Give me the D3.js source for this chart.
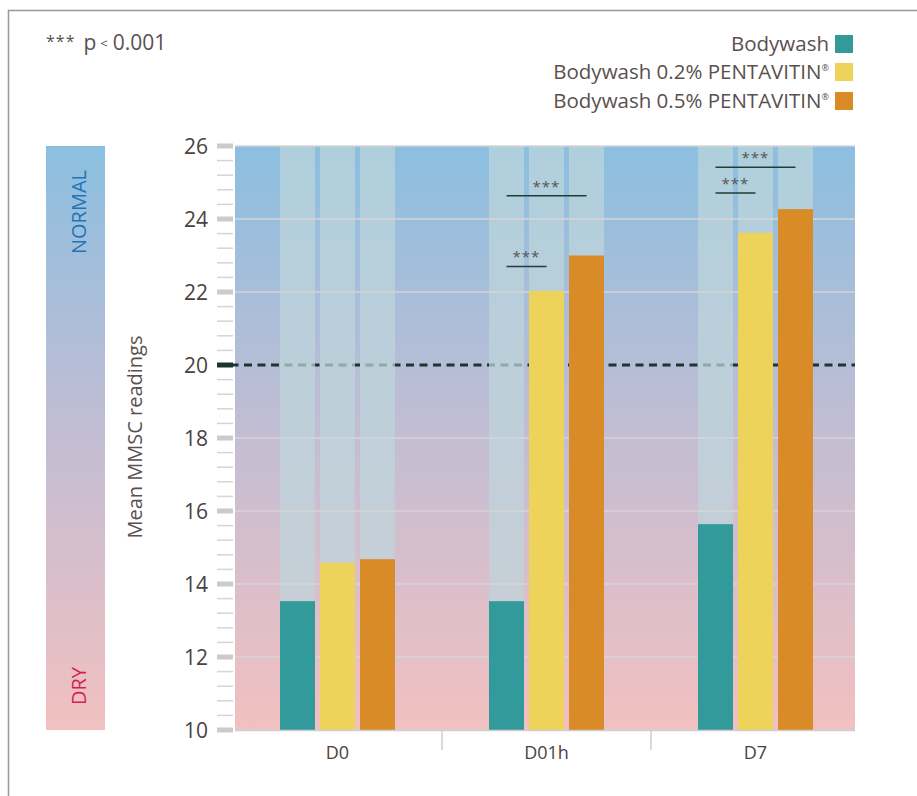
<!DOCTYPE html>
<html>
<head>
<meta charset="utf-8">
<script src="https://cdn.jsdelivr.net/npm/d3@7/dist/d3.min.js"></script>
<style>
html,body{margin:0;padding:0;background:#fff;}
svg{display:block;font-family:"Open Sans",sans-serif;}
</style>
</head>
<body>
<svg id="chart" width="917" height="796"></svg>
<script>
const categories = ["D0", "D01h", "D7"];
const seriesNames = ["Bodywash", "Bodywash 0.2% PENTAVITIN", "Bodywash 0.5% PENTAVITIN"];
const seriesSup = ["", "®", "®"];
const seriesColors = ["#339a9c", "#eed35a", "#d88b27"];
const bodywash = [13.53, 13.53, 15.64];
const penta02 = [14.58, 22.03, 23.62];
const penta05 = [14.68, 23.0, 24.27];
const yTicks = [10, 12, 14, 16, 18, 20, 22, 24, 26];
const threshold = 20;
// significance: category, series from, series to, bracket level (in data units)
const sigCategory = ["D01h", "D01h", "D7", "D7"];
const sigFrom = [0, 0, 0, 0];
const sigTo = [1, 2, 1, 2];
const sigY = [22.70, 24.64, 24.71, 25.42];

const series = [bodywash, penta02, penta05];
const svg = d3.select("#chart");
const textColor = "#5a504e";

const pLeft = 235, pRight = 855, pTop = 146, pBottom = 730;
const y = d3.scaleLinear().domain([10, 26]).range([pBottom, pTop]);
const x = d3.scaleBand().domain(categories).range([233, 860]).paddingInner(0).paddingOuter(0);
const barW = 35, barGap = 5;
const xs = d3.scaleBand().domain(d3.range(3)).range([0, 3 * barW + 2 * barGap]).paddingInner(barGap / (barW + barGap)).paddingOuter(0);
const groupOffset = (x.bandwidth() - (3 * barW + 2 * barGap)) / 2;
const barX = (ci, si) => x(categories[ci]) + groupOffset + xs(si);

// frame
svg.append("path").attr("d", "M8.5,796 L8.5,10.5 L917,10.5").attr("fill", "none").attr("stroke", "#9a9898").attr("stroke-width", 1.5);

// gradient
const defs = svg.append("defs");
const grad = defs.append("linearGradient").attr("id", "bg").attr("x1", 0).attr("y1", 0).attr("x2", 0).attr("y2", 1);
grad.append("stop").attr("offset", "0%").attr("stop-color", "#8bbfe0");
grad.append("stop").attr("offset", "50%").attr("stop-color", "#c3bdd3");
grad.append("stop").attr("offset", "100%").attr("stop-color", "#f2c0c0");

svg.append("rect").attr("x", pLeft).attr("y", pTop).attr("width", pRight - pLeft).attr("height", pBottom - pTop).attr("fill", "url(#bg)");
svg.append("rect").attr("x", 46).attr("y", pTop).attr("width", 59).attr("height", pBottom - pTop).attr("fill", "url(#bg)");

svg.append("text").attr("transform", `translate(86,212) rotate(-90)`).attr("text-anchor", "middle")
  .attr("font-size", 20).attr("fill", "#1f74b3").text("NORMAL");
svg.append("text").attr("transform", `translate(86,686) rotate(-90)`).attr("text-anchor", "middle")
  .attr("font-size", 20).attr("fill", "#d41f4d").text("DRY");

svg.append("text").attr("transform", `translate(142,437) rotate(-90)`).attr("text-anchor", "middle")
  .attr("font-size", 20).attr("fill", textColor).text("Mean MMSC readings");

// threshold dashed line (behind columns)
svg.append("line").attr("x1", 217).attr("x2", pRight).attr("y1", y(threshold)).attr("y2", y(threshold))
  .attr("stroke", "#17372f").attr("stroke-width", 3).attr("stroke-dasharray", "8,5.5");

// grey columns
categories.forEach((c, ci) => {
  for (let si = 0; si < 3; si++) {
    svg.append("rect").attr("x", barX(ci, si)).attr("y", pTop).attr("width", barW).attr("height", pBottom - pTop)
      .attr("fill", "rgb(190,214,219)").attr("opacity", 0.72);
  }
});

// gridlines
const minorTicks = d3.range(10, 26.001, 0.4).filter(v => Math.abs(v - Math.round(v / 2) * 2) > 0.01);
svg.append("g").selectAll("line").data(yTicks.filter(v => v !== threshold)).join("line")
  .attr("x1", pLeft).attr("x2", pRight).attr("y1", d => y(d)).attr("y2", d => y(d))
  .attr("stroke", "#d6d4d6").attr("stroke-width", 1.5);

// bars
series.forEach((vals, si) => {
  svg.append("g").selectAll("rect").data(vals).join("rect")
    .attr("x", (d, ci) => barX(ci, si)).attr("y", d => y(d)).attr("width", barW)
    .attr("height", d => y(10) - y(d)).attr("fill", seriesColors[si]);
});

// axis ticks
svg.append("g").selectAll("line").data(minorTicks).join("line")
  .attr("x1", 217).attr("x2", 233).attr("y1", d => y(d)).attr("y2", d => y(d))
  .attr("stroke", "#d6d4d4").attr("stroke-width", 1.5);
svg.append("g").selectAll("rect").data(yTicks).join("rect")
  .attr("x", 217).attr("width", 16).attr("y", d => y(d) - 2.5).attr("height", 5)
  .attr("fill", d => d === threshold ? "#17372f" : "#cdcaca");
svg.append("g").selectAll("text").data(yTicks).join("text")
  .attr("x", 208).attr("y", d => y(d)).attr("dy", "0.36em").attr("text-anchor", "end")
  .attr("font-size", 21).attr("fill", "#4a4240").text(d => d);

// x axis
svg.append("line").attr("x1", pLeft).attr("x2", pRight).attr("y1", pBottom + 0.5).attr("y2", pBottom + 0.5)
  .attr("stroke", "#cfcdcd").attr("stroke-width", 1.5);
svg.append("g").selectAll("line").data(categories.slice(1)).join("line")
  .attr("x1", d => x(d)).attr("x2", d => x(d)).attr("y1", pBottom + 1).attr("y2", pBottom + 20)
  .attr("stroke", "#cfcdcd").attr("stroke-width", 1.5);
svg.append("g").selectAll("text").data(categories).join("text")
  .attr("x", d => x(d) + x.bandwidth() / 2).attr("y", 759).attr("text-anchor", "middle")
  .attr("font-size", 18).attr("fill", "#4a4240").text(d => d);

// significance brackets
sigCategory.forEach((c, i) => {
  const ci = categories.indexOf(c);
  const x1 = barX(ci, sigFrom[i]) + barW / 2;
  const x2 = barX(ci, sigTo[i]) + barW / 2;
  const yy = y(sigY[i]);
  svg.append("line").attr("x1", x1).attr("x2", x2).attr("y1", yy).attr("y2", yy)
    .attr("stroke", "#1f3e3a").attr("stroke-width", 1.5);
  svg.append("text").attr("x", (x1 + x2) / 2).attr("y", yy - 4).attr("text-anchor", "middle")
    .attr("font-size", 15).attr("letter-spacing", 1).attr("fill", "#555").text("***");
});

// p-value note
const note = svg.append("text").attr("x", 46).attr("y", 50).attr("font-size", 21).attr("fill", textColor);
note.append("tspan").attr("font-size", 16).attr("dy", "-3").attr("letter-spacing", 1).text("***");
note.append("tspan").attr("dy", "3").attr("dx", 8).text("p");
note.append("tspan").attr("font-size", 13).attr("dy", "-2").attr("dx", 4).text("<");
note.append("tspan").attr("dy", "2").attr("dx", 5).text("0.001");

// legend
const legendY = [44, 72, 101];
seriesNames.forEach((n, i) => {
  const t = svg.append("text").attr("x", 829).attr("y", legendY[i]).attr("dy", "0.35em").attr("text-anchor", "end")
    .attr("font-size", 20.5).attr("fill", textColor);
  t.append("tspan").text(n);
  if (seriesSup[i]) t.append("tspan").attr("font-size", 9).attr("dy", "-8").text(seriesSup[i]);
  svg.append("rect").attr("x", 835).attr("y", legendY[i] - 9).attr("width", 18).attr("height", 18).attr("fill", seriesColors[i]);
});
</script>
</body>
</html>
